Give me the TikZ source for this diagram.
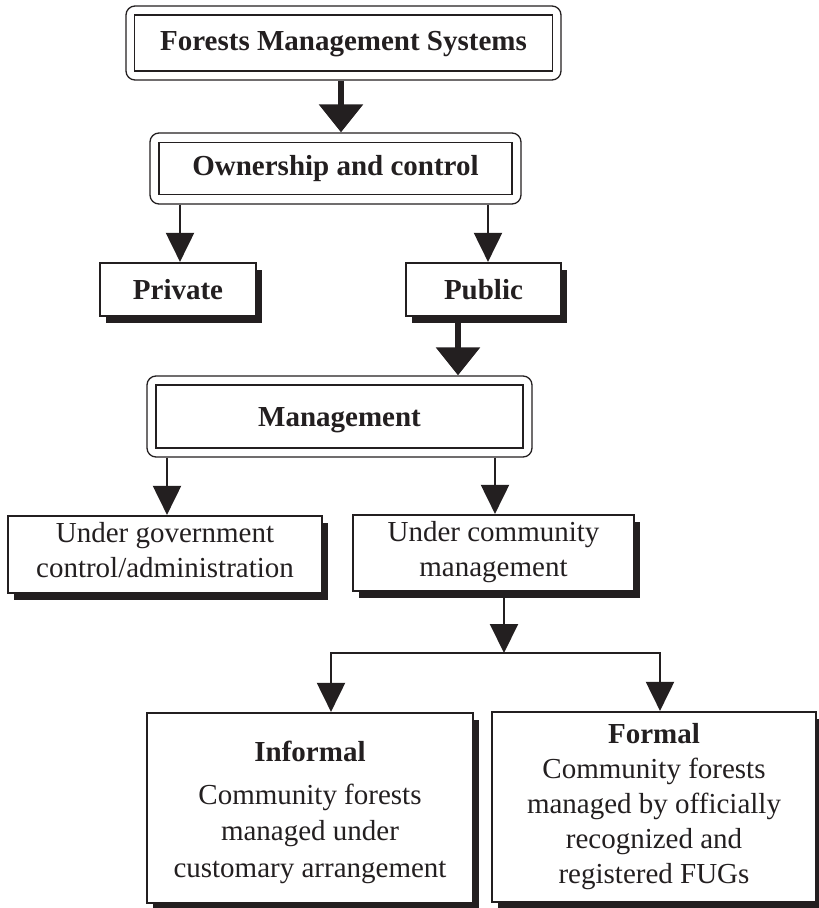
\documentclass[tikz,border=0pt]{standalone}
\usepackage{fontspec}
\setmainfont{Liberation Serif}
\usetikzlibrary{arrows.meta,shadows}
\definecolor{ink}{HTML}{231F20}
\begin{document}
\begin{tikzpicture}[x=1pt,y=-1pt,
  every node/.style={font=\fontsize{29}{35}\selectfont, text=ink},
  frame/.style={draw=ink, line width=1.3pt, rounded corners=9pt, inner sep=0pt},
  innerbox/.style={draw=ink, line width=1.5pt, inner sep=0pt, align=center,
    font=\bfseries\fontsize{29}{35}\selectfont},
  sbox/.style={draw=ink, line width=2.2pt, fill=white, inner sep=0pt, align=center,
    drop shadow={shadow xshift=6pt, shadow yshift=-7pt, fill=ink, opacity=1}},
  bbox/.style={sbox, font=\bfseries\fontsize{29}{35}\selectfont},
  lbl/.style={inner sep=0pt, align=center},
  blbl/.style={lbl, font=\bfseries\fontsize{29}{35}\selectfont},
  thinarrow/.style={draw=ink, line width=2pt, -{Triangle[width=28pt,length=29pt]}},
  thickarrow/.style={draw=ink, line width=6pt, -{Triangle[width=43pt,length=28pt]}}
]
\useasboundingbox (0,0) rectangle (819,908);

% double boxes
\node[frame, minimum width=435pt, minimum height=74pt] (o1) at (343.5,43) {};
\node[innerbox, minimum width=418pt, minimum height=56pt] (t1) at (o1.center) {};
\node[blbl] (l1) at ([yshift=-1pt]t1.center) {Forests Management Systems};

\node[frame, minimum width=371pt, minimum height=71pt] (o2) at (335.5,168.5) {};
\node[innerbox, minimum width=353pt, minimum height=52pt] (t2) at (o2.center) {};
\node[blbl] (l2) at (t2.center) {Ownership and control};

\node[frame, minimum width=385pt, minimum height=81pt] (oM) at (339.5,416.5) {};
\node[innerbox, minimum width=367pt, minimum height=63pt] (tM) at (oM.center) {};
\node[blbl] (lM) at ([yshift=-4pt]tM.center) {Management};

% shadowed boxes
\node[bbox, minimum width=156pt, minimum height=53pt] (priv) at (178,289.5) {Private};
\node[bbox, minimum width=155pt, minimum height=53pt] (pub) at (483.5,289.5) {Public};

\node[sbox, minimum width=314pt, minimum height=77pt] (gov) at (165,554.5) {};
\node[lbl] (lgov) at ([yshift=4pt]gov.center) {Under government\\control/administration};
\node[sbox, minimum width=281pt, minimum height=76pt] (comm) at (493.5,553) {};
\node[lbl] (lcomm) at ([yshift=1pt]comm.center) {Under community\\management};

\node[sbox, minimum width=326pt, minimum height=190pt] (inf) at (310,808) {};
\node[lbl, font=\fontsize{29}{36.5}\selectfont] (linf) at ([yshift=-4pt]inf.center)
  {\textbf{Informal}\\[6.5pt]Community forests\\managed under\\customary arrangement};
\node[sbox, minimum width=324pt, minimum height=190pt] (form) at (654,807) {};
\node[lbl] (lform) at (form.center)
  {\textbf{Formal}\\Community forests\\managed by officially\\recognized and\\registered FUGs};

% connectors
\coordinate (x1) at (341,0);
\coordinate (x2) at (180,0);
\coordinate (x3) at (488,0);
\coordinate (x4) at (458,0);
\coordinate (x5) at (167,0);
\coordinate (x6) at (495,0);
\coordinate (x7) at (504,0);
\coordinate (x8) at (331,0);
\coordinate (x9) at (660,0);
\coordinate (j) at (504,653);

\draw[thickarrow] (x1 |- o1.south) -- (x1 |- o2.north);
\draw[thinarrow] (x2 |- o2.south) -- (x2 |- priv.north);
\draw[thinarrow] (x3 |- o2.south) -- (x3 |- pub.north);
\draw[thickarrow] (x4 |- pub.south) -- (x4 |- oM.north);
\draw[thinarrow] (x5 |- oM.south) -- (x5 |- gov.north);
\draw[thinarrow] (x6 |- oM.south) -- (x6 |- comm.north);
\draw[thinarrow] (x7 |- comm.south) -- (j);
\draw[thinarrow] (j) -| (x8 |- inf.north);
\draw[thinarrow] (j) -| (x9 |- form.north);
\end{tikzpicture}
\end{document}
